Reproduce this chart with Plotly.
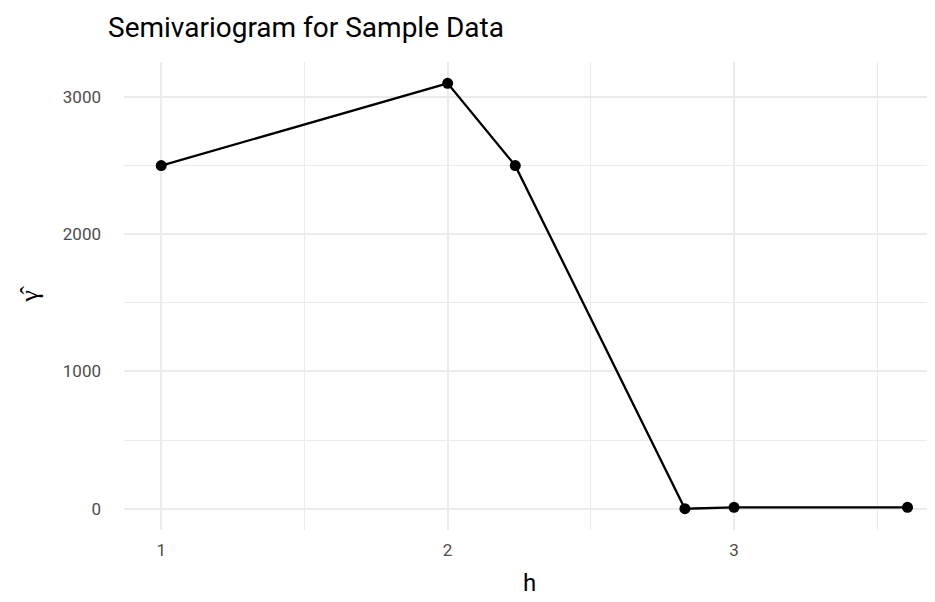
import plotly.graph_objects as go

h_vals = [1.0, 2.0, 2.2361, 2.8284, 3.0, 3.6056]
gamma_vals = [2500, 3100, 2500, 0, 10, 10]
x_ticks = [1, 2, 3]
y_ticks = [0, 1000, 2000, 3000]

FONT = "Roboto"
GRID = "#ebebeb"
W, H = 927, 594  # page body has an 8px margin

fig = go.Figure()
fig.add_trace(go.Scatter(
    x=h_vals, y=gamma_vals, mode="lines+markers",
    line=dict(color="black", width=2.3),
    marker=dict(color="black", size=11),
    showlegend=False, cliponaxis=False,
))

fig.update_layout(
    width=W, height=H,
    margin=dict(l=116, r=0, t=54, b=72, autoexpand=False),
    paper_bgcolor="white", plot_bgcolor="white",
    font=dict(family=FONT, color="#4d4d4d"),
    title=dict(text="Semivariogram for Sample Data", x=100/W, xanchor="left",
               y=1 - 19/H, yanchor="middle",
               font=dict(family=FONT, size=28, color="black")),
)
fig.update_xaxes(
    range=[0.87, 3.7016], tickvals=x_ticks, ticktext=[str(v) for v in x_ticks],
    showgrid=True, gridcolor=GRID, gridwidth=1.7, zeroline=False, showline=False,
    ticks="", ticklabelstandoff=8, tickfont=dict(size=17, color="#4d4d4d"),
    minor=dict(dtick=0.5, tick0=0, showgrid=True, gridcolor=GRID, gridwidth=1.3),
    title=dict(text="h", font=dict(size=24, color="black"), standoff=15),
    automargin=False,
)
fig.update_yaxes(
    range=[-155, 3255], tickvals=y_ticks, ticktext=[str(v) for v in y_ticks],
    showgrid=True, gridcolor=GRID, gridwidth=1.7, zeroline=False, showline=False,
    ticks="", ticklabelstandoff=22, tickfont=dict(size=17, color="#4d4d4d"),
    minor=dict(dtick=500, tick0=0, showgrid=True, gridcolor=GRID, gridwidth=1.3),
    title=dict(text="γ̂", font=dict(size=26, color="black"), standoff=16),
    automargin=False,
)

fig.write_html("out.html")
